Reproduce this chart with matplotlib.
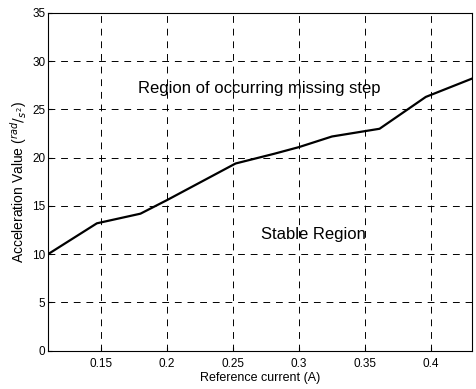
import matplotlib
matplotlib.use("Agg")
import matplotlib.pyplot as plt

# ---------------------------------------------------------
# DATA
# ---------------------------------------------------------
current = [0.11, 0.147, 0.18, 0.20, 0.252, 0.281, 0.30, 0.325, 0.361, 0.396, 0.431]
accel   = [10.0, 13.2, 14.2, 15.6, 19.4, 20.4, 21.1, 22.2, 23.0, 26.3, 28.2]

x_ticks = [0.15, 0.2, 0.25, 0.3, 0.35, 0.4]
x_tick_labels = ["0.15", "0.2", "0.25", "0.3", "0.35", "0.4"]
y_ticks = [0, 5, 10, 15, 20, 25, 30, 35]

plt.rcParams["font.family"] = ["Liberation Sans", "DejaVu Sans"]

# ---------------------------------------------------------
# PLOT
# ---------------------------------------------------------
fig = plt.figure(figsize=(4.76, 3.89), dpi=100)
ax = fig.add_axes([0.1008, 0.0985, 0.8908, 0.8681])

ax.plot(current, accel, color="black", linewidth=1.6)

ax.set_xlim(0.11, 0.431)
ax.set_ylim(0, 35)
ax.set_xticks(x_ticks)
ax.set_xticklabels(x_tick_labels)
ax.set_yticks(y_ticks)
ax.tick_params(direction="in", length=3, labelsize=8.5)
ax.tick_params(axis="x", pad=5)
ax.tick_params(axis="y", pad=2)

ax.grid(True, color="black", linestyle=(0, (7, 6)), linewidth=0.7)
for s in ax.spines.values():
    s.set_linewidth(0.8)

ax.text(0.178, 27.2, "Region of occurring missing step", fontsize=12,
        va="center", ha="left")
ax.text(0.271, 12.0, "Stable Region", fontsize=12, va="center", ha="left")

ax.set_xlabel("Reference current (A)", fontsize=9, labelpad=2)
ax.set_ylabel("Acceleration Value ($^{rad}/_{s^2}$)", fontsize=10, labelpad=2)

fig.savefig("out.png", dpi=100)
